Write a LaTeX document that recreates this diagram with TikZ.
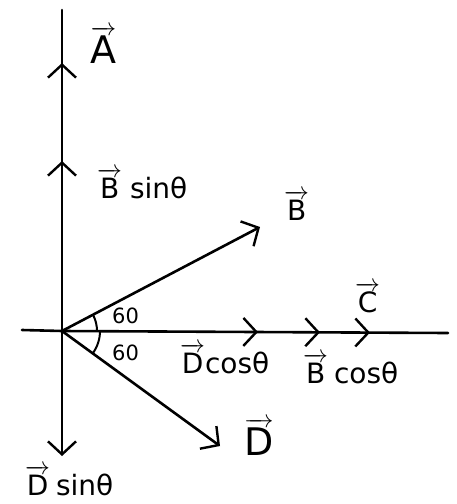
\documentclass[tikz,border=0pt]{standalone}
\usepackage{amsmath}
\usepackage{fontspec}
\setmainfont{DejaVu Sans}
\usetikzlibrary{arrows.meta,decorations.markings}
\newcommand{\vv}[1]{$\overrightarrow{\text{#1}}$}
\begin{document}
\begin{tikzpicture}[x=1pt,y=-1pt,
  axis/.style={line width=2.6pt,line cap=round},
  barb/.style={-{Straight Barb[length=13pt,width=28pt,line width=2.4pt]}},
  lbl/.style={font=\fontsize{28}{30}\selectfont,inner sep=0pt,anchor=base west},
  big/.style={font=\fontsize{38}{40}\selectfont,inner sep=0pt,anchor=base west},
  ang/.style={font=\fontsize{21}{24}\selectfont,inner sep=0pt,anchor=base west}]
\useasboundingbox (0,0) rectangle (456,504);
\coordinate (O) at (62,331);
\coordinate (T) at (62,10);
\coordinate (Bot) at (62,456);
\coordinate (L) at (22,330);
\coordinate (R) at (448,333);
\coordinate (Btip) at (260,227);
\coordinate (Dtip) at (220,446);
% vertical axis with two upward arrowheads
\draw[axis,postaction={decorate},decoration={markings,
  mark=at position 170pt with {\arrow{Straight Barb[length=13pt,width=28pt,line width=2.4pt]}},
  mark=at position 268pt with {\arrow{Straight Barb[length=13pt,width=28pt,line width=2.4pt]}}}]
  (O) -- (T);
\draw[axis,barb] (O) -- (Bot);
% horizontal axis
\draw[axis] (L) -- (O);
\draw[axis,postaction={decorate},decoration={markings,
  mark=at position 196pt with {\arrow{Straight Barb[length=13pt,width=28pt,line width=2.4pt]}},
  mark=at position 258pt with {\arrow{Straight Barb[length=13pt,width=28pt,line width=2.4pt]}},
  mark=at position 308pt with {\arrow{Straight Barb[length=13pt,width=28pt,line width=2.4pt]}}}]
  (O) -- (R);
% B and D vectors
\draw[axis,barb] (O) -- (Btip);
\draw[axis,barb] (O) -- (Dtip);
% angle arcs
\draw[line width=2pt] (97,331) arc[start angle=0,end angle=27.5,radius=35pt];
\draw[line width=2pt] (100,331) arc[start angle=0,end angle=-36.5,radius=38pt];
% labels
\node[big] (lA) at (90,63) {\vv{A}};
\node[lbl] (lBs) at (97,198) {\vv{B}\hspace{8pt}sinθ};
\node[lbl] (lB) at (284,220) {\vv{B}};
\node[lbl] (lC) at (355,312) {\vv{C}};
\node[ang] (a1) at (112,323) {60};
\node[ang] (a2) at (112,360) {60};
\node[lbl] (lDc) at (180,373) {\vv{D}cosθ};
\node[lbl] (lBc) at (303,383) {\vv{B}\hspace{6pt}cosθ};
\node[big] (lD) at (244,455) {\vv{D}};
\node[lbl] (lDs) at (25,495) {\vv{D}\hspace{6pt}sinθ};
\end{tikzpicture}
\end{document}
